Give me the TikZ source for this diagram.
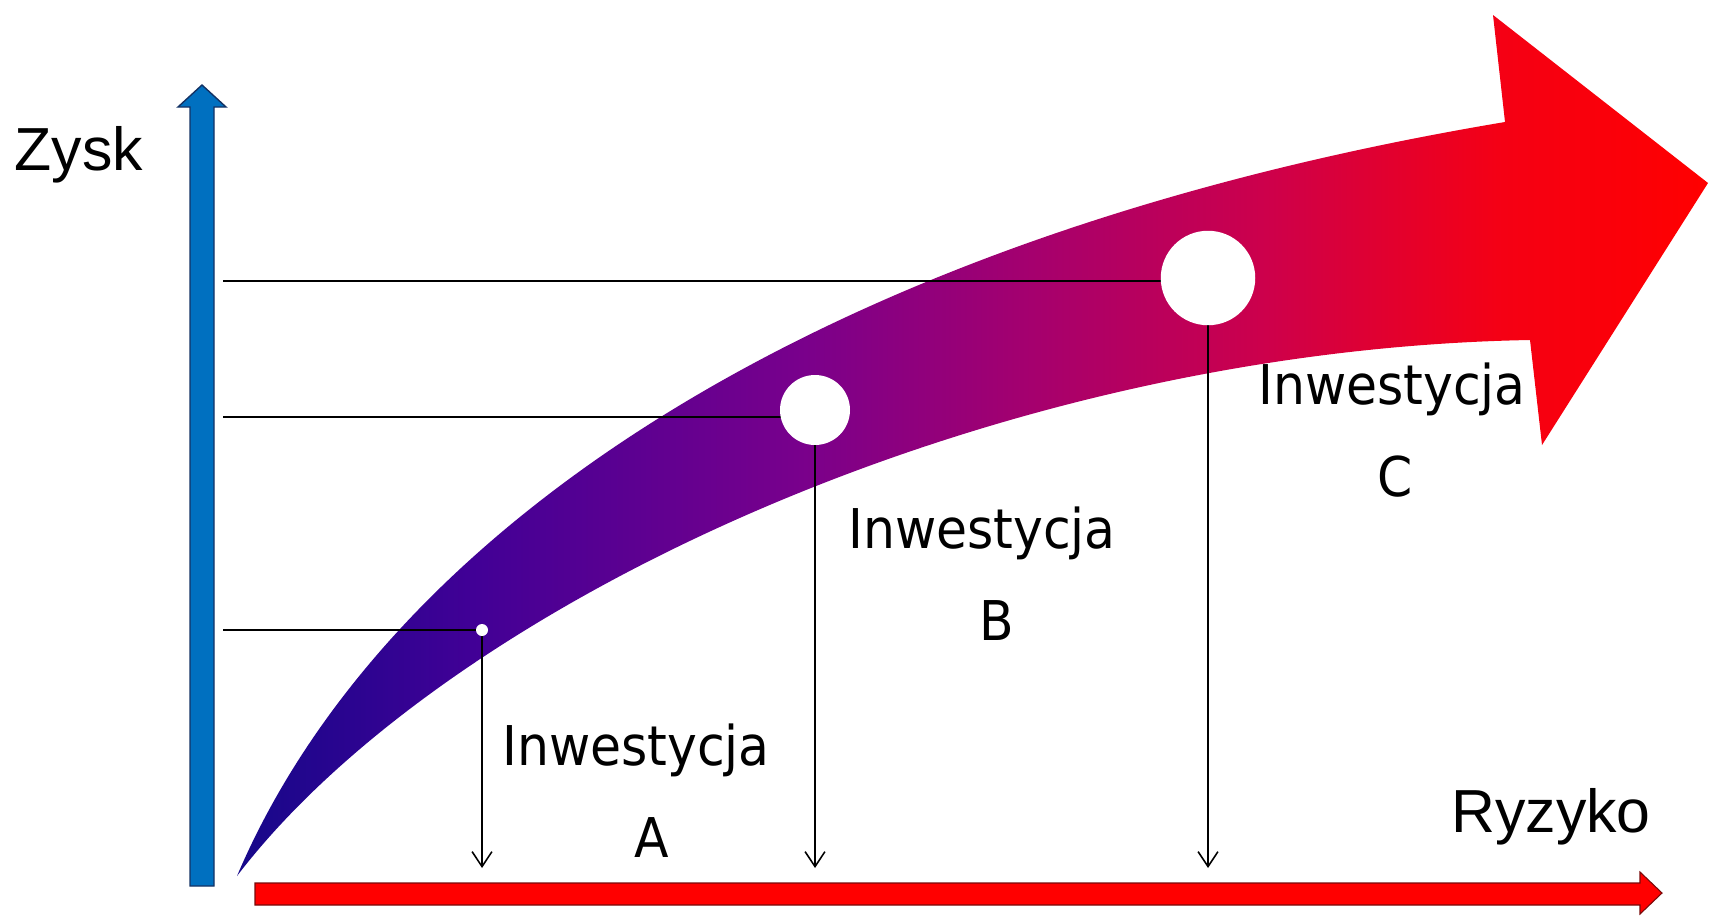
\documentclass[tikz,border=0pt]{standalone}
\usepackage{fontspec}
\setmainfont{Liberation Sans}
\newfontfamily\tahfont[FakeStretch=0.92]{DejaVu Sans}
\usetikzlibrary{arrows.meta}
\definecolor{g0}{RGB}{22,8,138}
\definecolor{g1}{RGB}{65,0,150}
\definecolor{g2}{RGB}{120,0,140}
\definecolor{g3}{RGB}{165,0,110}
\definecolor{g4}{RGB}{205,0,75}
\definecolor{g5}{RGB}{245,0,20}
\definecolor{g6}{RGB}{255,0,0}
\definecolor{axisblue}{RGB}{0,112,192}
\definecolor{axisblueline}{RGB}{20,50,100}
\definecolor{axisredline}{RGB}{120,10,10}
\pgfdeclarehorizontalshading{arrowgrad}{100bp}{color(0bp)=(g0); color(25bp)=(g0); color(33bp)=(g1); color(44bp)=(g2); color(52bp)=(g3); color(60bp)=(g4); color(68bp)=(g5); color(75bp)=(g6); color(100bp)=(g6)}
\tikzset{
  guide/.style={draw=black, line width=0.9pt},
  drop/.style={guide, -{Straight Barb[length=8.5pt,width=11.3pt]}},
  dot/.style={circle, fill=white, inner sep=0pt},
  biglabel/.style={anchor=base, inner sep=0pt, font=\fontsize{34.6}{40}\selectfont},
  invlabel/.style={anchor=base, inner sep=0pt, font=\tahfont\fontsize{31.2}{36}\selectfont}
}
\begin{document}
\begin{tikzpicture}[x=0.02cm, y=-0.02cm]
\useasboundingbox (0,0) rectangle (1710,916);
% big curved gradient arrow
\shade[shading=arrowgrad] (237,876) .. controls (380,540) and (800,240) .. (1505,122)
  -- (1493,15) -- (1708,183) -- (1542,445) -- (1530,340)
  .. controls (980,350) and (440,610) .. (237,876) -- cycle;
% axes
\draw[fill=axisblue, draw=axisblueline, line width=0.8pt]
  (190,886) -- (190,107) -- (178,107) -- (202,85) -- (226,107) -- (214,107) -- (214,886) -- cycle;
\draw[fill=red, draw=axisredline, line width=0.6pt]
  (255,883) -- (1640,883) -- (1640,872) -- (1662,893) -- (1640,914) -- (1640,905) -- (255,905) -- cycle;
% points
\coordinate (pA) at (482,630);
\coordinate (pB) at (815,410);
\coordinate (pC) at (1208,278);
\coordinate (yA) at (223,630);
\coordinate (yB) at (223,417);
\coordinate (yC) at (223,281);
\coordinate (xA) at (482,868);
\coordinate (xB) at (815,868);
\coordinate (xC) at (1208,868);
\draw[guide] (yA) -- (yA -| pA);
\draw[guide] (yB) -- (yB -| pB);
\draw[guide] (yC) -- (yC -| pC);
\draw[drop] (pA) -- (xA);
\draw[drop] (pB) -- (xB);
\draw[drop] (pC) -- (xC);
\node[dot, minimum size=0.24cm] (cA) at (pA) {};
\node[dot, minimum size=1.40cm] (cB) at (pB) {};
\node[dot, minimum size=1.89cm] (cC) at (pC) {};
% labels
\node[biglabel] (zysk) at (79,170) {Zysk};
\node[biglabel] (ryzyko) at (1551,832) {Ryzyko};
\node[invlabel] (iA) at (636,765) {Inwestycja};
\node[invlabel] (lA) at (652,857) {A};
\node[invlabel] (iB) at (982,548) {Inwestycja};
\node[invlabel] (lB) at (997,640) {B};
\node[invlabel] (iC) at (1392,404) {Inwestycja};
\node[invlabel] (lC) at (1395,496) {C};
\end{tikzpicture}
\end{document}
